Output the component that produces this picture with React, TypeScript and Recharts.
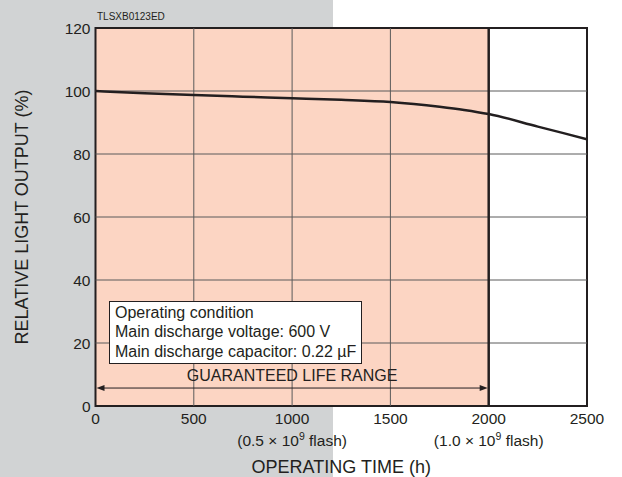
import {
  ComposedChart, Line, XAxis, YAxis, ReferenceArea, ReferenceLine, Legend,
} from 'recharts';

// operating time (h) and relative light output (%)
const hours = [0, 250, 500, 750, 1000, 1250, 1500, 1750, 1875, 2000, 2250, 2500];
const output = [100, 99.3, 98.7, 98.2, 97.7, 97.2, 96.5, 95.0, 94.0, 92.7, 88.7, 84.7];

const xTicks = [0, 500, 1000, 1500, 2000, 2500];
const yTicks = [0, 20, 40, 60, 80, 100, 120];
const flashNotes: Record<number, string> = { 1000: '0.5', 2000: '1.0' };

const conditionLines = [
  'Operating condition',
  'Main discharge voltage: 600 V',
  'Main discharge capacitor: 0.22 µF',
];

const GUARANTEED_END = 2000;
const ARROW_LEVEL = 5.7;

const data = hours.map((h, i) => ({ h, v: output[i] }));

const FONT = '"Liberation Sans", Arial, sans-serif';
const INK = '#231f20';
const GRID = '#5a5a5a';
const PINK = '#fcd5c3';
const GRAY = '#d1d3d4';

function XTick(props: any) {
  const { x, y, payload } = props;
  const note = flashNotes[payload.value];
  return (
    <g>
      <text x={x} y={y} dy="0.71em" textAnchor="middle" fontSize={15.5} fill={INK} fontFamily={FONT}>
        {payload.value}
      </text>
      {note && (
        <text x={x} y={y + 22} dy="0.71em" textAnchor="middle" fontSize={15.5} fill={INK} fontFamily={FONT}>
          ({note} × 10<tspan fontSize={10.5} dy={-6}>9</tspan>
          <tspan dy={6}> flash)</tspan>
        </text>
      )}
    </g>
  );
}

function RangeArrow(props: any) {
  const { x1, y1, x2 } = props;
  const a = 8, w = 3;
  return (
    <g>
      <line x1={x1 + a} y1={y1} x2={x2 - a} y2={y1} stroke={INK} strokeWidth={1} />
      <polygon points={`${x1 + 1},${y1} ${x1 + 1 + a},${y1 - w} ${x1 + 1 + a},${y1 + w}`} fill={INK} />
      <polygon points={`${x2 - 1},${y1} ${x2 - 1 - a},${y1 - w} ${x2 - 1 - a},${y1 + w}`} fill={INK} />
      <text x={(x1 + x2) / 2} y={y1 - 12.5} textAnchor="middle" dominantBaseline="central"
        fontSize={16} fill={INK} fontFamily={FONT}>
        GUARANTEED LIFE RANGE
      </text>
    </g>
  );
}

function ConditionBox() {
  return (
    <div style={{
      background: '#fff', border: `1px solid ${INK}`, padding: '1px 5px 2px 5px',
      fontFamily: FONT, fontSize: 16, lineHeight: '19.3px', color: INK, whiteSpace: 'nowrap',
      textAlign: 'left',
    }}>
      {conditionLines.map((t) => <div key={t}>{t}</div>)}
    </div>
  );
}

export default function App() {
  return (
    <div style={{ position: 'absolute', left: 0, top: 0, width: 622, height: 477, background: '#fff', overflow: 'hidden' }}>
      <div style={{ position: 'absolute', left: 0, top: 0, width: 333, height: 477, background: GRAY }} />
      <div style={{
        position: 'absolute', left: 97, top: 11, fontFamily: FONT, fontSize: 10, color: INK, zIndex: 2,
      }}>
        TLSXB0123ED
      </div>
      <ComposedChart width={622} height={477} data={data}
        margin={{ top: 28, right: 35, left: 15.5, bottom: 31 }}>
        <XAxis dataKey="h" type="number" domain={[0, 2500]} ticks={xTicks} allowDataOverflow
          axisLine={false} tickLine={false} tickSize={0} tickMargin={7} height={40}
          tick={<XTick />} interval={0}
          label={{ value: 'OPERATING TIME (h)', position: 'bottom', offset: 14.7, fontSize: 18, fill: INK, fontFamily: FONT }} />
        <YAxis type="number" domain={[0, 120]} ticks={yTicks} allowDataOverflow width={80}
          axisLine={false} tickLine={false} tickSize={0} tickMargin={5} interval={0}
          tick={{ fontSize: 15.5, fill: INK, fontFamily: FONT }}
          label={{ value: 'RELATIVE LIGHT OUTPUT (%)', angle: -90, position: 'insideLeft', offset: 6.5,
            style: { textAnchor: 'middle' }, fontSize: 18, fill: INK, fontFamily: FONT }} />
        <ReferenceArea x1={0} x2={GUARANTEED_END} y1={0} y2={120} fill={PINK} fillOpacity={1} stroke="none" />
        {yTicks.slice(1, -1).map((t) => (
          <ReferenceLine key={`y${t}`} y={t} stroke={GRID} strokeWidth={1} />
        ))}
        {xTicks.slice(1, -1).map((t) => (
          <ReferenceLine key={`x${t}`} x={t} stroke={t === GUARANTEED_END ? INK : GRID}
            strokeWidth={t === GUARANTEED_END ? 2.5 : 1} />
        ))}
        <ReferenceArea x1={0} x2={2500} y1={0} y2={120} fill="none" stroke={INK} strokeWidth={2} />
        <ReferenceLine segment={[{ x: 0, y: ARROW_LEVEL }, { x: GUARANTEED_END, y: ARROW_LEVEL }]}
          shape={<RangeArrow />} />
        <Line dataKey="v" type="monotone" stroke={INK} strokeWidth={2.5} dot={false} isAnimationActive={false} />
        <Legend layout="horizontal" verticalAlign="middle" align="center" content={<ConditionBox />}
          wrapperStyle={{ left: 109, top: 301, width: 'auto' }} />
      </ComposedChart>
    </div>
  );
}
